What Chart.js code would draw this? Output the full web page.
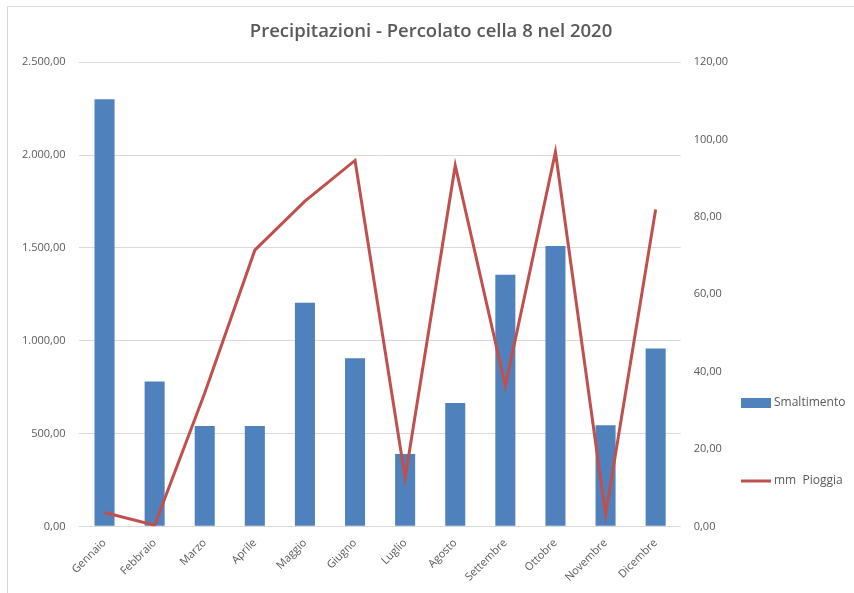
<!DOCTYPE html>
<html>
<head>
<meta charset="utf-8">
<script src="https://cdn.jsdelivr.net/npm/chart.js@4"></script>
<style>
  body { margin: 0; background: #fff; }
  #wrap { position: absolute; left: 0; top: 0; width: 854px; height: 593px; }
  #frame { position: absolute; left: 7px; top: 6px; right: 0; bottom: 0; border-top: 1px solid #d9d9d9; border-left: 1px solid #d9d9d9; }
</style>
</head>
<body>
<div id="wrap">
  <div id="frame"></div>
  <canvas id="chart" width="854" height="593"></canvas>
</div>
<script>
const months = ['Gennaio', 'Febbraio', 'Marzo', 'Aprile', 'Maggio', 'Giugno', 'Luglio', 'Agosto', 'Settembre', 'Ottobre', 'Novembre', 'Dicembre'];
const smaltimento = [2300, 780, 540, 540, 1205, 905, 390, 665, 1355, 1510, 545, 958];
const pioggia = [3.6, 0.3, 34.5, 71.4, 84.1, 94.6, 12.5, 93.3, 36.3, 96.8, 3.0, 81.9];

const textColor = '#595959';
const fontFamily = '"Open Sans", "Liberation Sans", sans-serif';

function fmt(v) {
    const parts = Number(v).toFixed(2).split('.');
    parts[0] = parts[0].replace(/\B(?=(\d{3})+(?!\d))/g, '.');
    return parts[0] + ',' + parts[1];
}

// legenda disegnata a mano come in Excel
const sideLegend = {
    id: 'sideLegend',
    afterDraw(chart) {
        const ctx = chart.ctx;
        const ds = chart.data.datasets;
        const x = 741;
        const rows = [403, 481];
        ctx.save();
        ctx.font = '12px ' + fontFamily;
        ctx.fillStyle = textColor;
        ctx.textBaseline = 'middle';
        ds.forEach((d, i) => {
            const y = rows[i];
            if (d.type === 'line') {
                ctx.strokeStyle = d.borderColor;
                ctx.lineWidth = 3;
                ctx.beginPath();
                ctx.moveTo(x, y);
                ctx.lineTo(x + 30, y);
                ctx.stroke();
            } else {
                ctx.fillStyle = d.backgroundColor;
                ctx.fillRect(x, y - 5, 30, 10);
            }
            ctx.fillStyle = textColor;
            ctx.fillText(d.label, x + 33, y);
        });
        ctx.restore();
    }
};

new Chart(document.getElementById('chart'), {
    data: {
        labels: months,
        datasets: [
            {
                type: 'bar',
                label: 'Smaltimento',
                data: smaltimento,
                backgroundColor: '#4f81bd',
                yAxisID: 'y',
                categoryPercentage: 0.4,
                barPercentage: 1,
                order: 2
            },
            {
                type: 'line',
                label: 'mm  Pioggia',
                data: pioggia,
                borderColor: '#c0504d',
                borderWidth: 3,
                pointRadius: 0,
                tension: 0,
                yAxisID: 'y1',
                order: 1
            }
        ]
    },
    options: {
        responsive: false,
        animation: false,
        layout: { padding: { top: 6, right: 0, left: 8, bottom: 7 } },
        plugins: {
            legend: { display: false },
            tooltip: { enabled: false },
            title: {
                display: true,
                text: 'Precipitazioni - Percolato cella 8 nel 2020',
                color: textColor,
                font: { family: fontFamily, size: 18.5, weight: '600' },
                padding: { top: 15, bottom: 19 }
            }
        },
        scales: {
            x: {
                grid: { display: false },
                border: { display: false },
                ticks: {
                    color: textColor,
                    font: { family: fontFamily, size: 11 },
                    maxRotation: 45,
                    minRotation: 45,
                    padding: 2
                }
            },
            y: {
                position: 'left',
                min: 0,
                max: 2500,
                grid: { color: '#d9d9d9', drawTicks: false },
                border: { display: false },
                ticks: {
                    stepSize: 500,
                    color: textColor,
                    font: { family: fontFamily, size: 11 },
                    padding: 14,
                    callback: v => fmt(v)
                }
            },
            y1: {
                position: 'right',
                min: 0,
                max: 120,
                grid: { display: false, drawTicks: false },
                border: { display: false },
                afterFit: s => { s.width += 113; },
                ticks: {
                    stepSize: 20,
                    color: textColor,
                    font: { family: fontFamily, size: 11 },
                    padding: 13,
                    callback: v => fmt(v)
                }
            }
        }
    },
    plugins: [sideLegend]
});
</script>
</body>
</html>
